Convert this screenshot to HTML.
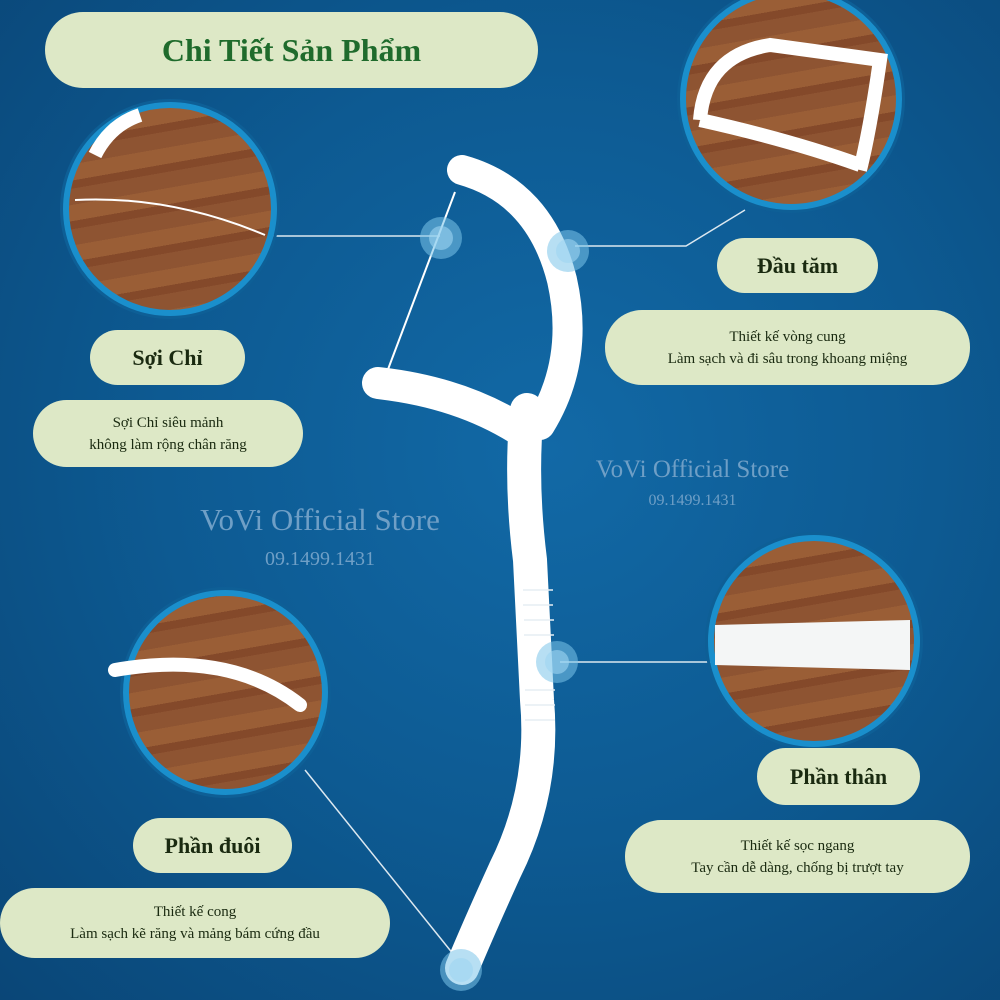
<!DOCTYPE html>
<html><head><meta charset="utf-8"><style>
body{margin:0;width:1000px;height:1000px;overflow:hidden;font-family:"Liberation Serif",serif;}
#bg{position:absolute;left:0;top:0;width:1000px;height:1000px;background:radial-gradient(ellipse at 55% 45%,#1269a6 0%,#0d5a92 50%,#0a4677 100%);}
.pill{position:absolute;background:#dde8c6;border-radius:30px;color:#1a2a10;text-align:center;display:flex;align-items:center;justify-content:center;flex-direction:column;box-sizing:border-box}
.lbl{font-weight:bold;font-size:22px}
.desc{font-size:15px;line-height:22px}
.circ{position:absolute;border-radius:50%;border:6px solid #1a8fcc;box-shadow:0 0 0 3px #0e5f96;background:repeating-linear-gradient(170deg,#8e5432 0 16px,#9a5e36 16px 32px,#84492a 32px 40px);box-sizing:border-box;overflow:hidden}
.wm{position:absolute;color:#6f9fc6;text-align:center}
</style></head><body>
<div id="bg"></div>
<svg width="1000" height="1000" style="position:absolute;left:0;top:0">
<g stroke="#dce8f0" stroke-width="1.5" fill="none">
<line x1="270" y1="236" x2="440" y2="236"/>
<polyline points="575,246 686,246 745,210"/>
<line x1="560" y1="662" x2="712" y2="662"/>
<line x1="305" y1="770" x2="462" y2="965"/>
<line x1="455" y1="192" x2="387" y2="372" stroke="#fff" stroke-width="2"/>
</g>
<g stroke="#fff" fill="none" stroke-linecap="round">
<path d="M462,170 Q540,192 562,280 Q580,360 540,425" stroke-width="30"/>
<path d="M378,383 Q460,392 520,430" stroke-width="32"/>
<path d="M527,410 Q520,480 530,560 L537,700 Q545,790 505,870 Q480,925 462,968" stroke-width="34"/>
</g>
<g stroke="#e6eef3" stroke-width="1.5">
<line x1="523" y1="590" x2="553" y2="590"/><line x1="523" y1="605" x2="553" y2="605"/><line x1="524" y1="620" x2="554" y2="620"/><line x1="524" y1="635" x2="554" y2="635"/><line x1="525" y1="690" x2="555" y2="690"/><line x1="525" y1="705" x2="555" y2="705"/><line x1="525" y1="720" x2="555" y2="720"/>
</g>
<g fill="#7cc4ea" opacity="0.55">
<circle cx="441" cy="238" r="21"/><circle cx="568" cy="251" r="21"/><circle cx="557" cy="662" r="21"/><circle cx="461" cy="970" r="21"/>
</g>
<g fill="#9ed5f2" opacity="0.6">
<circle cx="441" cy="238" r="12"/><circle cx="568" cy="251" r="12"/><circle cx="557" cy="662" r="12"/><circle cx="461" cy="970" r="12"/>
</g>
</svg>
<div class="circ" style="left:63px;top:102px;width:214px;height:214px"></div>
<div class="circ" style="left:123px;top:590px;width:205px;height:205px"></div>
<div class="circ" style="left:680px;top:-12px;width:222px;height:222px"></div>
<div class="circ" style="left:708px;top:535px;width:212px;height:212px"></div>
<svg width="1000" height="1000" style="position:absolute;left:0;top:0">
<path d="M75,200 Q170,195 265,235" stroke="#fff" stroke-width="2" fill="none"/>
<path d="M95,155 Q110,125 140,115" stroke="#fff" stroke-width="14" fill="none"/>
<path d="M115,670 Q230,650 300,705" stroke="#fff" stroke-width="14" fill="none" stroke-linecap="round"/>
<path d="M700,120 Q705,55 770,45 L880,60 Q870,130 860,170 M700,120 Q790,140 860,165" stroke="#fff" stroke-width="14" fill="none"/>
<path d="M715,625 L910,620 L910,670 L715,665 Z" fill="#f4f6f6"/>
</svg>
<div class="pill" style="left:45px;top:12px;width:493px;height:76px;border-radius:38px"><span style="color:#1f6b2c;font-size:32px;font-weight:bold">Chi Tiết Sản Phẩm</span></div>
<div class="pill lbl" style="left:90px;top:330px;width:155px;height:55px">Sợi Chỉ</div>
<div class="pill desc" style="left:33px;top:400px;width:270px;height:67px;border-radius:34px">Sợi Chỉ siêu mảnh<br>không làm rộng chân răng</div>
<div class="pill lbl" style="left:133px;top:818px;width:159px;height:55px">Phần đuôi</div>
<div class="pill desc" style="left:0px;top:888px;width:390px;height:70px;border-radius:35px">Thiết kế cong<br>Làm sạch kẽ răng và mảng bám cứng đầu</div>
<div class="pill lbl" style="left:717px;top:238px;width:161px;height:55px">Đầu tăm</div>
<div class="pill desc" style="left:605px;top:310px;width:365px;height:75px;border-radius:37px">Thiết kế vòng cung<br>Làm sạch và đi sâu trong khoang miệng</div>
<div class="pill lbl" style="left:757px;top:748px;width:163px;height:57px">Phần thân</div>
<div class="pill desc" style="left:625px;top:820px;width:345px;height:73px;border-radius:36px">Thiết kế sọc ngang<br>Tay cần dễ dàng, chống bị trượt tay</div>
<div class="wm" style="left:160px;top:502px;width:320px;font-size:31px">VoVi Official Store</div>
<div class="wm" style="left:160px;top:548px;width:320px;font-size:20px">09.1499.1431</div>
<div class="wm" style="left:570px;top:456px;width:245px;font-size:25px">VoVi Official Store</div>
<div class="wm" style="left:570px;top:492px;width:245px;font-size:16px">09.1499.1431</div>
</body></html>
